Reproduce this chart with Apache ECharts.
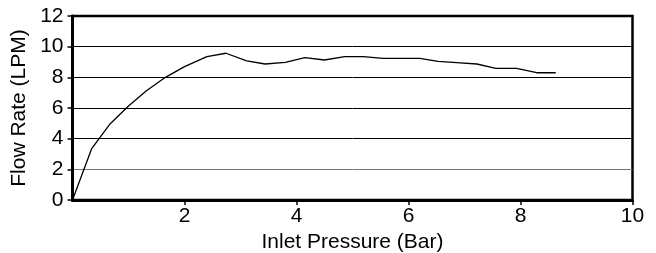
<!DOCTYPE html>
<html>
<head>
<meta charset="utf-8">
<script src="https://cdn.jsdelivr.net/npm/echarts@6/dist/echarts.min.js"></script>
<style>
  html, body { margin: 0; padding: 0; background: #fff; }
  #chart { width: 656px; height: 253px; }
</style>
</head>
<body>
<div id="chart"></div>
<script>
let pressure = [0, 0.34, 0.67, 1.0, 1.32, 1.66, 2.0, 2.4, 2.74, 3.11, 3.44, 3.8, 4.15, 4.5, 4.86, 5.19, 5.55, 6.2, 6.53, 6.86, 7.22, 7.56, 7.93, 8.29, 8.63];
let flowRate = [0, 3.33, 4.96, 6.13, 7.13, 8.0, 8.7, 9.35, 9.57, 9.07, 8.87, 8.98, 9.28, 9.13, 9.35, 9.35, 9.24, 9.24, 9.04, 8.96, 8.87, 8.59, 8.59, 8.3, 8.3];

let FONT = '"Liberation Sans", Arial, Helvetica, sans-serif';

document.addEventListener('DOMContentLoaded', () => {
  let chart = echarts.init(document.getElementById('chart'));

  let points = pressure.map((p, i) => [p, flowRate[i]]);

  let option = {
    animation: false,
    grid: {
      left: 72.5, right: 23.5, top: 16, bottom: 53,
      outerBoundsMode: 'none',
      containLabel: false,
      show: true,
      borderColor: '#000',
      borderWidth: 2.5
    },
    xAxis: {
      type: 'value',
      min: 0, max: 10, interval: 2,
      name: 'Inlet Pressure (Bar)',
      nameLocation: 'middle',
      nameGap: 28,
      nameTextStyle: { fontFamily: FONT, fontSize: 21, color: '#000' },
      axisLine: { show: true, lineStyle: { color: '#000', width: 3 } },
      axisTick: { show: true, length: 5, lineStyle: { color: '#000', width: 1.5 } },
      axisLabel: { showMinLabel: false, margin: 6, fontFamily: FONT, fontSize: 21, color: '#000' },
      splitLine: { show: false }
    },
    yAxis: {
      type: 'value',
      min: 0, max: 12, interval: 2,
      name: 'Flow Rate (LPM)',
      nameLocation: 'middle',
      nameGap: 34,
      nameTextStyle: { fontFamily: FONT, fontSize: 21, color: '#000' },
      axisLine: { show: true, lineStyle: { color: '#000', width: 3 } },
      axisTick: { show: true, length: 5, lineStyle: { color: '#000', width: 1.5 } },
      axisLabel: { margin: 9, fontFamily: FONT, fontSize: 21, color: '#000' },
      splitLine: {
        show: true,
        lineStyle: { color: ['#000', '#777', '#000', '#000', '#000', '#000', '#000'], width: 1 }
      }
    },
    series: [{
      type: 'line',
      data: points,
      showSymbol: false,
      symbol: 'none',
      lineStyle: { color: '#000', width: 1.3 }
    }]
  };

  chart.setOption(option);
});
</script>
</body>
</html>
